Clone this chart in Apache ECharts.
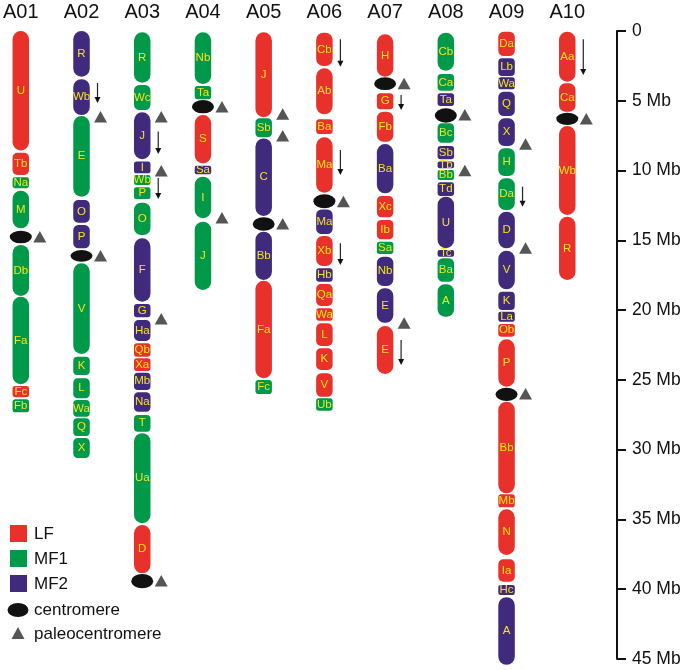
<!DOCTYPE html>
<html><head><meta charset="utf-8">
<script src="https://cdn.jsdelivr.net/npm/echarts@6/dist/echarts.min.js"></script>
<style>html,body{margin:0;padding:0;background:#fff}#c{width:685px;height:670px}</style>
</head><body><div id="c"></div>
<script>
const chromNames = ["A01","A02","A03","A04","A05","A06","A07","A08","A09","A10"];
const typeNames = ["LF","MF1","MF2"];
const yTicks = [0,5,10,15,20,25,30,35,40,45];

// blocks: [label, type, startMb, endMb]
const A01 = [["U","LF",0,8.56],["Tb","LF",8.72,10.32],["Na","MF1",10.48,11.27],["M","MF1",11.44,14.14],["Db","MF1",15.33,18.99],["Fa","MF1",19.04,25.31],["Fc","LF",25.44,26.24],["Fb","MF1",26.39,27.32]];
const A02 = [["R","MF2",0,3.27],["Wb","MF2",3.46,6.02],["E","MF1",6.09,11.87],["O","MF2",12.11,13.74],["P","MF2",13.90,15.57],["V","MF1",16.64,23.14],["K","MF1",23.34,24.65],["L","MF1",24.88,26.32],["Wa","MF1",26.44,27.64],["Q","MF1",27.75,29.02],["X","MF1",29.16,30.60]];
const A03 = [["R","MF1",0.09,3.70],["Wc","MF1",3.87,5.66],["J","MF2",5.83,9.19],["I","MF2",9.36,10.20],["Wb","MF1",10.32,11.03],["P","MF1",11.20,12.04],["O","MF1",12.30,14.62],["F","MF2",14.85,19.40],["G","MF2",19.56,20.51],["Ha","MF2",20.71,22.21],["Qb","LF",22.38,23.34],["Xa","LF",23.45,24.36],["Mb","MF2",24.48,25.72],["Na","MF2",25.89,27.28],["T","MF1",27.51,28.71],["Ua","MF1",28.82,35.27],["D","LF",35.40,38.86]];
const A04 = [["Nb","MF1",0.09,3.80],["Ta","MF1",3.94,4.89],["S","LF",6.02,9.48],["Sa","MF2",9.65,10.27],["I","MF1",10.44,13.42],["J","MF1",13.66,18.56]];
const A05 = [["J","LF",0.09,6.18],["Sb","MF1",6.26,7.62],["C","MF2",7.70,13.25],["Bb","MF2",14.38,17.84],["Fa","LF",17.90,24.88],["Fc","MF1",25.01,26.01]];
const A06 = [["Cb","LF",0.12,2.51],["Ab","LF",2.67,5.97],["Ba","LF",6.33,7.38],["Ma","LF",7.62,11.59],["Ma","MF2",12.79,14.55],["Xb","LF",14.69,16.84],["Hb","MF2",17.00,17.96],["Qa","LF",18.13,19.70],["Wa","LF",19.87,20.76],["L","LF",20.94,22.57],["K","LF",22.73,24.29],["V","LF",24.53,26.20],["Ub","MF1",26.32,27.21]];
const A07 = [["H","LF",0.24,3.27],["G","LF",4.46,5.61],["Fb","LF",5.78,7.93],["Ba","MF2",8.10,11.63],["Xc","LF",11.82,13.35],["Ib","LF",13.54,14.92],["Sa","MF1",15.10,15.98],["Nb","MF2",16.17,18.27],["E","MF2",18.44,20.90],["E","LF",21.14,24.58]];
const A08 = [["Cb","MF1",0.12,2.84],["Ca","MF1",3.08,4.28],["Ta","MF2",4.46,5.37],["Bc","MF1",6.61,8.00],["Sb","MF2",8.24,9.19],["Tb","MF2",9.36,9.84],["Bb","MF1",9.96,10.68],["Td","MF2",10.84,11.82],["U","MF2",11.87,15.57],["Tc","MF2",15.69,16.17],["Ba","MF1",16.29,17.96],["A","MF1",18.15,20.47]];
const A09 = [["Da","LF",0.05,1.79],["Lb","MF2",1.96,3.22],["Wa","MF2",3.32,4.18],["Q","MF2",4.35,6.09],["X","MF2",6.26,8.24],["H","MF1",8.40,10.39],["Da","MF1",10.55,12.83],["D","MF2",12.95,15.57],["V","MF2",15.74,18.51],["K","MF2",18.68,19.99],["La","MF2",20.11,20.83],["Ob","LF",20.99,21.90],["P","LF",22.09,25.49],["Bb","LF",26.56,33.13],["Mb","LF",33.20,34.13],["N","LF",34.27,37.55],["Ia","LF",37.86,39.46],["Hc","MF2",39.69,40.41],["A","MF2",40.57,45.42]];
const A10 = [["Aa","LF",0.05,3.63],["Ca","LF",3.75,5.78],["Wb","LF",6.81,13.18],["R","LF",13.31,17.84]];
const chromBlocks = [A01,A02,A03,A04,A05,A06,A07,A08,A09,A10];

// centromeres: [chromIndex, startMb, endMb]
const centromeres = [[0,14.31,15.21],[1,15.69,16.53],[2,38.91,39.93],[3,4.94,5.90],[4,13.35,14.31],[5,11.70,12.70],[6,3.32,4.23],[7,5.54,6.57],[8,25.56,26.51],[9,5.85,6.74]];
// paleocentromeres: [chromIndex, Mb]
const paleocentromeres = [[0,14.76],[1,6.16],[1,16.12],[2,6.16],[2,10.03],[2,20.64],[2,39.41],[3,5.45],[3,13.40],[4,5.97],[4,7.52],[4,13.83],[5,12.23],[6,3.78],[6,20.94],[7,6.02],[7,10.01],[8,8.12],[8,15.57],[8,26.01],[9,6.31]];
// inversion arrows: [chromIndex, startMb, endMb]
const arrows = [[1,3.73,5.16],[2,7.21,8.81],[2,10.53,12.04],[5,0.59,2.56],[5,8.53,10.32],[5,15.21,16.77],[6,4.59,5.66],[6,22.14,23.93],[8,11.16,12.59],[9,0.59,3.15]];

const COLORS = {LF:'#E8312A', MF1:'#00994A', MF2:'#3F2A7B'};
const LABEL_COLOR = '#F5E51A';
const FONT = 'Liberation Sans, Arial, sans-serif';
const BW = 16.5;

const blockData = [];
chromBlocks.forEach((arr, ci) => arr.forEach(b => blockData.push([ci, b[2], b[3], typeNames.indexOf(b[1]), b[0]])));

const chart = echarts.init(document.getElementById('c'), null, {renderer:'canvas'});
chart.setOption({
  animation:false,
  backgroundColor:'#fff',
  grid:{left:20, right:68, top:31, bottom:11},
  xAxis:{type:'value', position:'top', min:0, max:9.819, interval:1,
    axisLine:{show:false}, axisTick:{show:false}, splitLine:{show:false},
    axisLabel:{formatter:v => (Number.isInteger(v) && chromNames[v]) ? chromNames[v] : '', fontSize:20, color:'#111', margin:9, fontFamily:FONT, showMaxLabel:false}},
  yAxis:{type:'value', position:'right', inverse:true, min:0, max:45, interval:5,
    axisLine:{show:true, onZero:false, lineStyle:{color:'#111', width:2}},
    axisTick:{show:true, length:9, lineStyle:{color:'#111', width:2}},
    splitLine:{show:false},
    axisLabel:{formatter:v => v === 0 ? '0' : v + ' Mb', fontSize:17.5, color:'#111', margin:15, fontFamily:FONT}},
  series:[
    {type:'custom', data:blockData, clip:false,
     renderItem:(params, api) => {
       const x = api.value(0), s = api.value(1), e = api.value(2);
       const t = typeNames[api.value(3)];
       const p1 = api.coord([x, s]), p2 = api.coord([x, e]);
       const h = p2[1] - p1[1];
       const r = Math.min(BW/2, Math.max(2, h*0.22));
       return {type:'group', children:[
         {type:'rect', shape:{x:p1[0]-BW/2, y:p1[1], width:BW, height:h, r:r}, style:{fill:COLORS[t]}},
         {type:'text', x:p1[0], y:p1[1]+h/2, style:{text:api.value(4), fill:LABEL_COLOR, font:'11.5px '+FONT, align:'center', verticalAlign:'middle'}}
       ]};
     }},
    {type:'custom', data:centromeres, clip:false,
     renderItem:(params, api) => {
       const p1 = api.coord([api.value(0), api.value(1)]), p2 = api.coord([api.value(0), api.value(2)]);
       const ry = (p2[1]-p1[1])/2;
       return {type:'circle', x:p1[0], y:(p1[1]+p2[1])/2, scaleY:ry/11, shape:{cx:0, cy:0, r:11}, style:{fill:'#111'}};
     }},
    {type:'custom', data:paleocentromeres, clip:false,
     renderItem:(params, api) => {
       const p = api.coord([api.value(0), api.value(1)]);
       const cx = p[0] + 19, cy = p[1];
       return {type:'polygon', shape:{points:[[cx, cy-6], [cx+6.5, cy+5.5], [cx-6.5, cy+5.5]]}, style:{fill:'#555'}};
     }},
    {type:'custom', data:arrows, clip:false,
     renderItem:(params, api) => {
       const p1 = api.coord([api.value(0), api.value(1)]), p2 = api.coord([api.value(0), api.value(2)]);
       const x = p1[0] + 16;
       return {type:'group', children:[
         {type:'line', shape:{x1:x, y1:p1[1], x2:x, y2:p2[1]-5}, style:{stroke:'#222', lineWidth:1.2}},
         {type:'polygon', shape:{points:[[x-3, p2[1]-6], [x+3, p2[1]-6], [x, p2[1]]]}, style:{fill:'#111'}}
       ]};
     }}
  ],
  graphic:[
    {type:'rect', shape:{x:10, y:525, width:17, height:17}, style:{fill:COLORS.LF}},
    {type:'text', x:34, y:534, style:{text:'LF', font:'17px '+FONT, fill:'#111', verticalAlign:'middle'}},
    {type:'rect', shape:{x:10, y:550, width:17, height:17}, style:{fill:COLORS.MF1}},
    {type:'text', x:34, y:559, style:{text:'MF1', font:'17px '+FONT, fill:'#111', verticalAlign:'middle'}},
    {type:'rect', shape:{x:10, y:575, width:17, height:17}, style:{fill:COLORS.MF2}},
    {type:'text', x:34, y:584, style:{text:'MF2', font:'17px '+FONT, fill:'#111', verticalAlign:'middle'}},
    {type:'circle', x:18, y:610, scaleX:1.5, shape:{cx:0, cy:0, r:7}, style:{fill:'#111'}},
    {type:'text', x:34, y:610, style:{text:'centromere', font:'17px '+FONT, fill:'#111', verticalAlign:'middle'}},
    {type:'polygon', shape:{points:[[18, 627], [24.5, 639], [11.5, 639]]}, style:{fill:'#555'}},
    {type:'text', x:34, y:634, style:{text:'paleocentromere', font:'17px '+FONT, fill:'#111', verticalAlign:'middle'}}
  ]
});
</script></body></html>
